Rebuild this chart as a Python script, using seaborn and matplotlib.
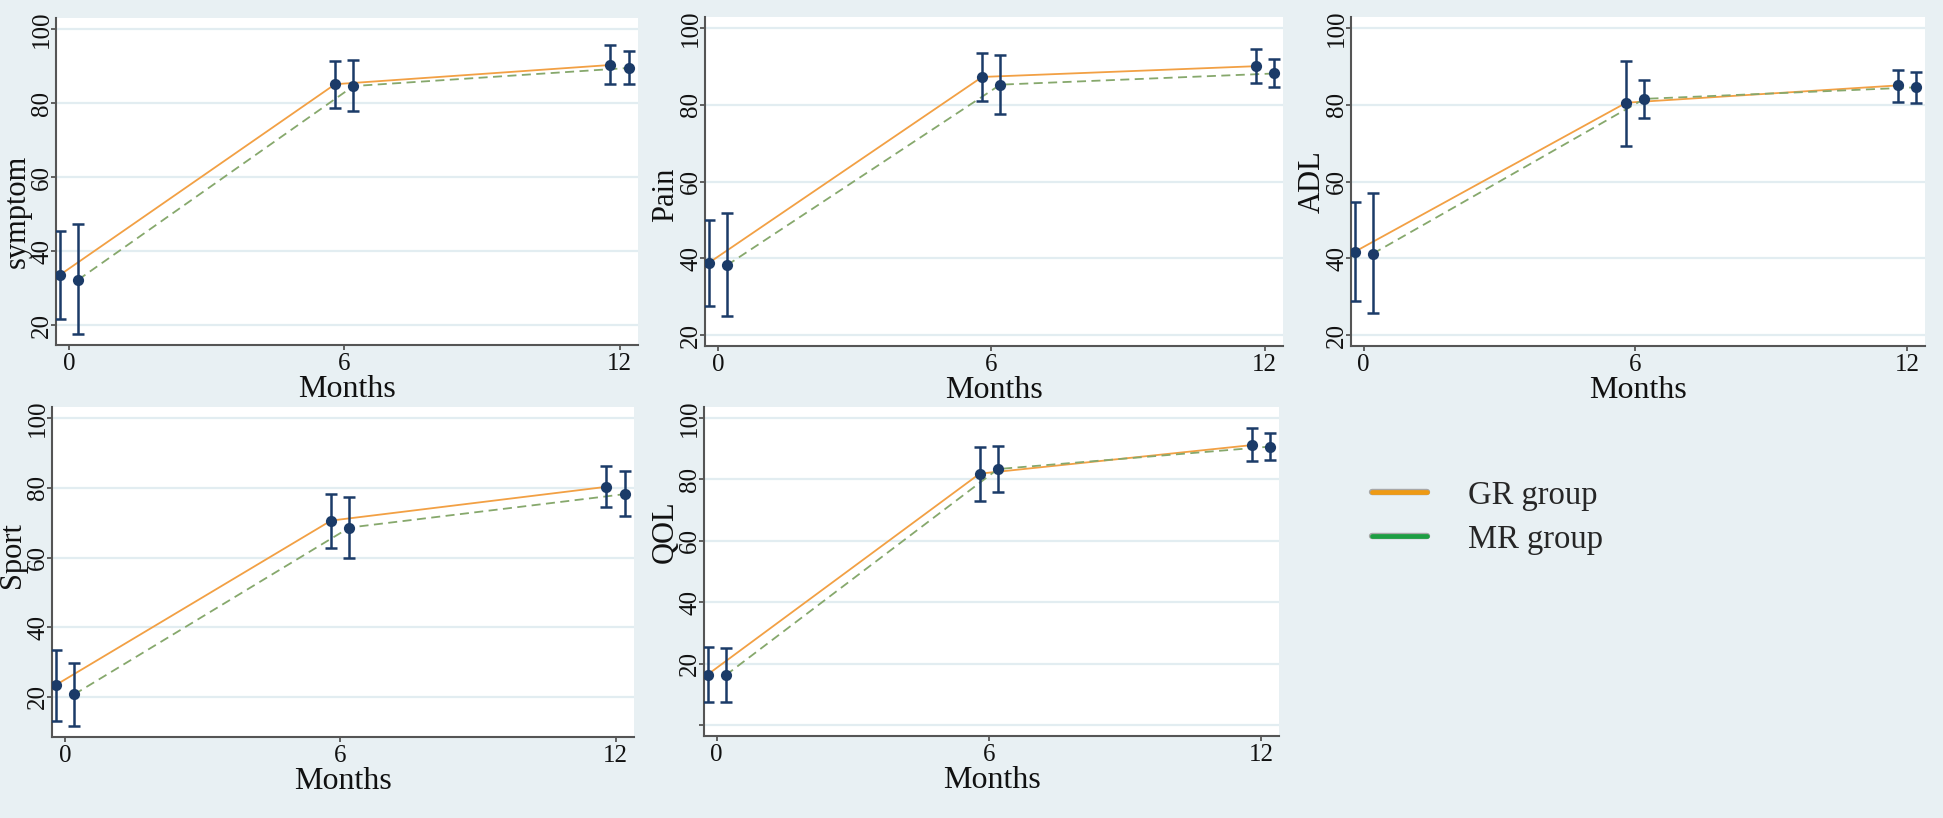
import numpy as np
import matplotlib
matplotlib.use('Agg')
import matplotlib.pyplot as plt
import matplotlib.patheffects as pe
import pandas as pd
import seaborn as sns
from matplotlib.lines import Line2D

# Waarden (gemiddelde, onder- en bovengrens).
months = [0, 6, 12]
groups = ['GR group', 'MR group']

symptom_gr = [33.5, 85.1, 90.3]
symptom_gr_lo = [21.6, 78.6, 85.2]
symptom_gr_hi = [45.4, 91.3, 95.6]
symptom_mr = [32.2, 84.6, 89.5]
symptom_mr_lo = [17.5, 77.8, 85.2]
symptom_mr_hi = [47.3, 91.6, 94.1]

pain_gr = [38.8, 87.2, 90.0]
pain_gr_lo = [27.6, 80.9, 85.7]
pain_gr_hi = [50.1, 93.5, 94.5]
pain_mr = [38.2, 85.2, 88.1]
pain_mr_lo = [24.9, 77.5, 84.7]
pain_mr_hi = [51.8, 93.0, 91.9]

adl_gr = [41.7, 80.5, 85.0]
adl_gr_lo = [28.9, 69.2, 80.7]
adl_gr_hi = [54.7, 91.3, 89.0]
adl_mr = [41.2, 81.5, 84.5]
adl_mr_lo = [25.9, 76.4, 80.4]
adl_mr_hi = [57.0, 86.4, 88.5]

sport_gr = [23.4, 70.6, 80.3]
sport_gr_lo = [13.0, 62.8, 74.6]
sport_gr_hi = [33.6, 78.2, 86.2]
sport_mr = [20.7, 68.6, 78.2]
sport_mr_lo = [11.7, 59.9, 72.0]
sport_mr_hi = [29.6, 77.5, 84.7]

qol_gr = [16.4, 81.8, 91.1]
qol_gr_lo = [7.4, 72.9, 85.9]
qol_gr_hi = [25.4, 90.6, 96.6]
qol_mr = [16.2, 83.3, 90.6]
qol_mr_lo = [7.4, 75.7, 86.3]
qol_mr_hi = [25.1, 90.8, 94.9]

W, H = 1943, 818
achtergrond = '#e8f0f3'
oranje = '#f2a044'
groen = '#86a86c'
navy = '#1b3b68'

sns.set_theme(style='white')
plt.rcParams['font.family'] = ['Liberation Serif', 'DejaVu Serif']

fig = plt.figure(figsize=(W / 100, H / 100), dpi=100)
fig.patch.set_facecolor(achtergrond)

# (naam, gr, gr_lo, gr_hi, mr, mr_lo, mr_hi, pixelvak, ylim, labelhoogte)
panelen = [
    ('symptom', symptom_gr, symptom_gr_lo, symptom_gr_hi,
     symptom_mr, symptom_mr_lo, symptom_mr_hi,
     (56, 638, 18, 345), (14.6, 103), 0.41),
    ('Pain', pain_gr, pain_gr_lo, pain_gr_hi,
     pain_mr, pain_mr_lo, pain_mr_hi,
     (705, 1283, 17, 346), (17.2, 102.8), 0.46),
    ('ADL', adl_gr, adl_gr_lo, adl_gr_hi,
     adl_mr, adl_mr_lo, adl_mr_hi,
     (1351, 1925, 17, 346), (17.2, 102.8), 0.5),
    ('Sport', sport_gr, sport_gr_lo, sport_gr_hi,
     sport_mr, sport_mr_lo, sport_mr_hi,
     (52, 634, 407, 737), (8.5, 103.2), 0.55),
    ('QOL', qol_gr, qol_gr_lo, qol_gr_hi,
     qol_mr, qol_mr_lo, qol_mr_hi,
     (704, 1279, 407, 736), (-3.6, 103.5), 0.62),
]

for (naam, gr, gr_lo, gr_hi, mr, mr_lo, mr_hi,
     (x0, x1, y0, y1), ylim, labely) in panelen:
    ax = fig.add_axes([x0 / W, 1 - y1 / H, (x1 - x0) / W, (y1 - y0) / H])
    ax.set_facecolor('white')

    df = pd.DataFrame({
        'pos': [m - 0.2 for m in months] + [m + 0.2 for m in months],
        'score': gr + mr,
        'lo': gr_lo + mr_lo,
        'hi': gr_hi + mr_hi,
        'group': [groups[0]] * 3 + [groups[1]] * 3,
    })

    for t in [0, 20, 40, 60, 80, 100]:
        ax.axhline(t, color='#e2edf1', lw=1.6, zorder=0)

    sns.lineplot(data=df, x='pos', y='score', hue='group', style='group',
                 palette={groups[0]: oranje, groups[1]: groen},
                 dashes={groups[0]: '', groups[1]: (5, 3)},
                 linewidth=1.3, legend=False, ax=ax, zorder=2)
    ax.errorbar(df['pos'], df['score'],
                yerr=[df['score'] - df['lo'], df['hi'] - df['score']],
                fmt='none', ecolor=navy, elinewidth=1.8, capsize=4.5,
                capthick=1.8, zorder=3)
    sns.scatterplot(data=df, x='pos', y='score', color=navy, s=65,
                    edgecolor=navy, linewidth=0, ax=ax, zorder=4)

    ax.set_xlim(-0.28, 12.4)
    ax.set_ylim(*ylim)
    ax.set_xticks(months)
    ax.set_xticklabels(['0', '6', '12'])
    if ylim[0] < 0:
        ax.set_yticks([0, 20, 40, 60, 80, 100])
        ax.set_yticklabels(['', '20', '40', '60', '80', '100'])
    else:
        ax.set_yticks([20, 40, 60, 80, 100])
        ax.set_yticklabels(['20', '40', '60', '80', '100'])
    for lab in ax.get_yticklabels():
        lab.set_rotation(90)
        lab.set_va('center')

    for kant in ['top', 'right']:
        ax.spines[kant].set_visible(False)
    for kant in ['left', 'bottom']:
        ax.spines[kant].set_color('#555555')
        ax.spines[kant].set_linewidth(1.5)
    ax.tick_params(axis='both', which='both', direction='out', length=3.5,
                   width=1.3, color='#555555', labelsize=18,
                   labelcolor='#111111', left=True, bottom=True)
    ax.tick_params(axis='y', pad=-1.5)
    ax.tick_params(axis='x', pad=2)

    ax.set_xlabel('Months', fontsize=23, labelpad=0, color='#111111')
    ax.set_ylabel('')
    # Basislijn van het gedraaide label ~31 px links van de as.
    ax.text(-31.5 / (x1 - x0), labely, naam, transform=ax.transAxes,
            rotation=90, rotation_mode='anchor', ha='center',
            va='baseline', fontsize=22, color='#111111')

# Legenda rechtsonder.
rand = [pe.withStroke(linewidth=4.6, foreground='#a8a8a8')]
handles = [Line2D([0], [0], color='#ee9a14', lw=3.4, path_effects=rand),
           Line2D([0], [0], color='#1c9e42', lw=3.4, path_effects=rand)]
fig.legend(handles, groups, loc='center left',
           bbox_to_anchor=(1372 / W, 1 - 517.5 / H), frameon=False,
           fontsize=23.5, handlelength=1.7, handletextpad=1.25,
           labelspacing=0.42, borderpad=0, borderaxespad=0)

fig.savefig('out.png', dpi=100, facecolor=achtergrond)
